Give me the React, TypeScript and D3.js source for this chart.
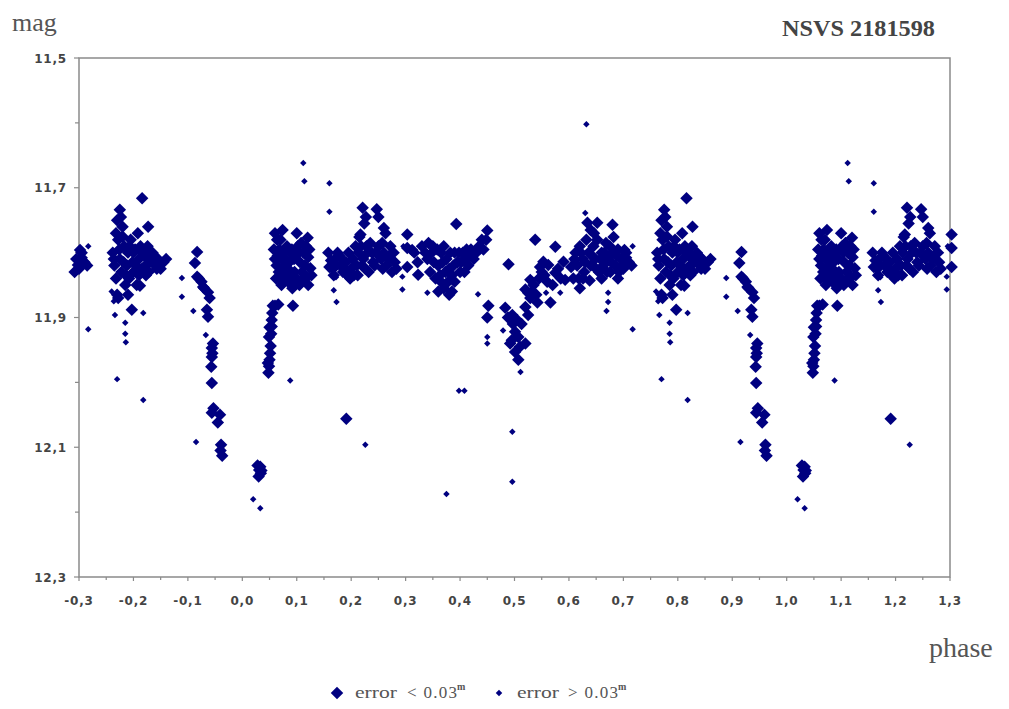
import React from "react";
import * as d3 from "d3";

// ---- data (phase in [0,1); drawn again at phase-1 / phase+1 as in the folded light curve) ----
const bigPoints: [number, number][] = [
  // primary minimum
  [0.028, 12.128], [0.031, 12.135], [0.034, 12.14], [0.03, 12.145], [0.033, 12.13], [0.035, 12.136],
  // ascending branch
  [0.048, 11.985], [0.049, 11.975], [0.05, 11.965], [0.051, 11.955], [0.052, 11.944], [0.053, 11.925],
  [0.054, 11.914], [0.054, 11.904], [0.055, 11.893], [0.056, 11.882], [0.06, 11.882], [0.066, 11.88],
  [0.049, 11.93], [0.05, 11.915], [0.047, 11.97],
  // maximum I
  [0.06, 11.77], [0.064, 11.78], [0.068, 11.795], [0.06, 11.81], [0.063, 11.82], [0.067, 11.83], [0.07, 11.84],
  [0.062, 11.84], [0.072, 11.81], [0.076, 11.8], [0.08, 11.82], [0.078, 11.835], [0.084, 11.845], [0.086, 11.815],
  [0.09, 11.83], [0.095, 11.81], [0.1, 11.77], [0.102, 11.79], [0.106, 11.815], [0.11, 11.83], [0.098, 11.845],
  [0.092, 11.855], [0.12, 11.777], [0.121, 11.807], [0.125, 11.824], [0.119, 11.838], [0.121, 11.85],
  [0.115, 11.82], [0.112, 11.8], [0.093, 11.882], [0.074, 11.765], [0.082, 11.79], [0.088, 11.8],
  [0.065, 11.805], [0.07, 11.78], [0.075, 11.825], [0.079, 11.81], [0.083, 11.83], [0.087, 11.84],
  [0.091, 11.795], [0.096, 11.83], [0.1, 11.84], [0.104, 11.8], [0.108, 11.785], [0.113, 11.84],
  [0.117, 11.79], [0.123, 11.795], [0.127, 11.835], [0.058, 11.795], [0.072, 11.85], [0.105, 11.85],
  // 0.15 - 0.29
  [0.221, 11.731], [0.247, 11.733], [0.227, 11.745], [0.26, 11.762], [0.217, 11.772], [0.158, 11.8],
  [0.163, 11.812], [0.166, 11.825], [0.17, 11.81], [0.175, 11.8], [0.18, 11.82], [0.185, 11.83], [0.19, 11.815],
  [0.195, 11.8], [0.2, 11.825], [0.205, 11.835], [0.21, 11.82], [0.213, 11.8], [0.218, 11.79], [0.222, 11.81],
  [0.226, 11.825], [0.23, 11.8], [0.235, 11.785], [0.24, 11.815], [0.245, 11.8], [0.25, 11.79], [0.255, 11.81],
  [0.26, 11.8], [0.265, 11.82], [0.27, 11.805], [0.275, 11.83], [0.28, 11.815], [0.168, 11.835], [0.198, 11.84],
  [0.232, 11.83], [0.257, 11.785], [0.178, 11.805], [0.215, 11.776], [0.263, 11.77], [0.272, 11.79],
  [0.16, 11.822], [0.172, 11.82], [0.183, 11.81], [0.188, 11.825], [0.193, 11.835], [0.203, 11.81],
  [0.208, 11.79], [0.212, 11.835], [0.22, 11.82], [0.228, 11.79], [0.238, 11.8], [0.243, 11.82], [0.252, 11.805],
  [0.258, 11.825], [0.268, 11.81], [0.278, 11.8], [0.283, 11.825], [0.224, 11.755], [0.25, 11.745],
  [0.191, 12.056],
  // 0.29 - 0.45
  [0.303, 11.772], [0.303, 11.793], [0.312, 11.796], [0.303, 11.822], [0.323, 11.834], [0.33, 11.79],
  [0.336, 11.8], [0.342, 11.785], [0.348, 11.8], [0.352, 11.815], [0.345, 11.83], [0.355, 11.84], [0.36, 11.82],
  [0.365, 11.8], [0.37, 11.79], [0.375, 11.81], [0.38, 11.825], [0.385, 11.835], [0.37, 11.855], [0.36, 11.86],
  [0.39, 11.8], [0.393, 11.756], [0.395, 11.815], [0.4, 11.83], [0.405, 11.8], [0.41, 11.81], [0.415, 11.82],
  [0.42, 11.795], [0.425, 11.81], [0.43, 11.8], [0.435, 11.79], [0.44, 11.78], [0.45, 11.766], [0.448, 11.78],
  [0.385, 11.86], [0.39, 11.845], [0.378, 11.845], [0.358, 11.795], [0.322, 11.815], [0.316, 11.8],
  [0.34, 11.81], [0.35, 11.79], [0.363, 11.835], [0.368, 11.815], [0.373, 11.83], [0.382, 11.8],
  [0.388, 11.82], [0.398, 11.8], [0.402, 11.815], [0.408, 11.83], [0.412, 11.795], [0.418, 11.805],
  [0.443, 11.795], [0.38, 11.865], [0.365, 11.845],
  // secondary minimum
  [0.452, 11.882], [0.45, 11.9], [0.483, 11.885], [0.496, 11.896], [0.505, 11.904], [0.501, 11.922],
  [0.507, 11.93], [0.492, 11.94], [0.52, 11.94], [0.501, 11.953], [0.507, 11.965], [0.489, 11.818],
  [0.525, 11.896], [0.52, 11.884], [0.513, 11.91], [0.497, 11.91], [0.488, 11.9], [0.495, 11.935],
  [0.51, 11.945],
  // rising
  [0.529, 11.87], [0.542, 11.877], [0.566, 11.877], [0.525, 11.862], [0.52, 11.857], [0.529, 11.842],
  [0.547, 11.822], [0.553, 11.814], [0.562, 11.819], [0.575, 11.831], [0.59, 11.814], [0.593, 11.842],
  [0.538, 11.78], [0.575, 11.791], [0.535, 11.85], [0.545, 11.84], [0.555, 11.835], [0.57, 11.85], [0.58, 11.825],
  [0.55, 11.83], [0.56, 11.845], [0.585, 11.84], [0.532, 11.86], [0.54, 11.865],
  // maximum II
  [0.634, 11.754], [0.652, 11.754], [0.68, 11.757], [0.682, 11.776], [0.612, 11.8], [0.615, 11.82],
  [0.618, 11.84], [0.62, 11.79], [0.625, 11.81], [0.628, 11.83], [0.632, 11.78], [0.636, 11.8], [0.64, 11.82],
  [0.645, 11.79], [0.648, 11.81], [0.652, 11.78], [0.655, 11.83], [0.66, 11.8], [0.663, 11.82], [0.668, 11.785],
  [0.672, 11.81], [0.676, 11.83], [0.68, 11.8], [0.685, 11.82], [0.69, 11.795], [0.695, 11.81], [0.7, 11.825],
  [0.705, 11.8], [0.71, 11.815], [0.638, 11.843], [0.62, 11.855], [0.66, 11.84], [0.69, 11.84], [0.715, 11.82],
  [0.604, 11.822], [0.608, 11.84], [0.702, 11.796], [0.705, 11.808], [0.698, 11.819],
  [0.622, 11.8], [0.63, 11.815], [0.642, 11.805], [0.646, 11.77], [0.65, 11.825], [0.658, 11.81],
  [0.665, 11.8], [0.67, 11.83], [0.675, 11.79], [0.678, 11.815], [0.688, 11.805], [0.692, 11.83],
  [0.64, 11.765], [0.61, 11.81], [0.626, 11.84],
  // 0.76 - 0.86
  [0.775, 11.734], [0.816, 11.716], [0.827, 11.76], [0.77, 11.865], [0.797, 11.888], [0.812, 11.851],
  [0.762, 11.8], [0.765, 11.82], [0.768, 11.84], [0.77, 11.75], [0.772, 11.78], [0.775, 11.81], [0.778, 11.83],
  [0.78, 11.76], [0.783, 11.79], [0.785, 11.85], [0.788, 11.82], [0.79, 11.8], [0.792, 11.84], [0.795, 11.78],
  [0.798, 11.815], [0.8, 11.83], [0.803, 11.795], [0.806, 11.85], [0.81, 11.81], [0.813, 11.79], [0.816, 11.825],
  [0.82, 11.805], [0.823, 11.835], [0.826, 11.79], [0.83, 11.815], [0.835, 11.8], [0.84, 11.82], [0.845, 11.81],
  [0.85, 11.825], [0.855, 11.815], [0.86, 11.81], [0.808, 11.77], [0.79, 11.865], [0.772, 11.87],
  [0.764, 11.81], [0.768, 11.77], [0.774, 11.795], [0.777, 11.745], [0.782, 11.815], [0.786, 11.835],
  [0.793, 11.79], [0.8, 11.8], [0.805, 11.82], [0.81, 11.835], [0.818, 11.8], [0.822, 11.82], [0.828, 11.83],
  [0.833, 11.81], [0.838, 11.805], [0.843, 11.825], [0.848, 11.815], [0.78, 11.775],
  // descending branch
  [0.917, 11.799], [0.913, 11.816], [0.917, 11.837], [0.928, 11.853], [0.937, 11.861], [0.935, 11.888],
  [0.937, 11.899], [0.944, 11.947], [0.944, 11.961], [0.943, 11.976], [0.944, 12.001], [0.944, 12.047],
  [0.959, 12.05], [0.955, 12.062], [0.961, 12.096], [0.963, 12.113], [0.92, 11.84], [0.925, 11.845],
  [0.93, 11.855], [0.94, 11.87], [0.945, 11.955], [0.946, 11.94], [0.96, 12.105], [0.947, 12.04],
];

const smallPoints: [number, number][] = [
  [0.02, 12.18], [0.033, 12.194], [0.088, 11.997], [0.112, 11.662], [0.114, 11.69], [0.16, 11.693],
  [0.16, 11.737], [0.172, 11.838], [0.168, 11.858], [0.173, 11.876], [0.226, 12.096], [0.294, 11.837],
  [0.294, 11.857], [0.296, 11.79], [0.34, 11.862], [0.398, 12.013], [0.408, 12.013], [0.375, 12.172],
  [0.496, 12.076], [0.496, 12.153], [0.433, 11.864], [0.45, 11.93], [0.45, 11.94], [0.479, 11.92],
  [0.511, 11.984], [0.584, 11.862], [0.558, 11.862], [0.63, 11.739], [0.632, 11.602], [0.672, 11.862],
  [0.672, 11.876], [0.669, 11.89], [0.717, 11.79], [0.717, 11.918], [0.766, 11.896], [0.785, 11.908],
  [0.785, 11.925], [0.786, 11.938], [0.818, 11.893], [0.77, 11.995], [0.818, 12.027], [0.889, 11.839],
  [0.889, 11.868], [0.91, 11.89], [0.915, 12.092], [0.933, 11.927], [0.76, 11.86], [0.764, 11.875],
];

const xTickValues = [-0.3, -0.2, -0.1, 0.0, 0.1, 0.2, 0.3, 0.4, 0.5, 0.6, 0.7, 0.8, 0.9, 1.0, 1.1, 1.2, 1.3];
const xMinorValues = [-0.25, -0.15, -0.05, 0.05, 0.15, 0.25, 0.35, 0.45, 0.55, 0.65, 0.75, 0.85, 0.95, 1.05, 1.15, 1.25];
const yTickValues = [11.5, 11.7, 11.9, 12.1, 12.3];
const yMinorValues = [11.6, 11.8, 12.0, 12.2];

const W = 1009, H = 709;
const L = 79, R = 950, T = 58, B = 577;
const NAVY = "#000080";
const AXIS = "#8a8a8a";
const LABEL = "#444";
const SERIF = "'Liberation Serif', 'Times New Roman', serif";

function fold(pts: [number, number][]) {
  const out: [number, number][] = [];
  for (const [p, m] of pts) {
    for (const s of [-1, 0, 1]) {
      const q = p + s;
      if (q >= -0.31 && q <= 1.31) out.push([q, m]);
    }
  }
  return out;
}

const fmt = (v: number, d: number) => v.toFixed(d).replace(".", ",");

export default function App() {
  const x = d3.scaleLinear().domain([-0.3, 1.3]).range([L, R]);
  const y = d3.scaleLinear().domain([11.5, 12.3]).range([T, B]);
  const bigSym = d3.symbol(d3.symbolSquare, 78)()!;
  const smallSym = d3.symbol(d3.symbolSquare, 21)()!;
  const big = fold(bigPoints);
  const small = fold(smallPoints);
  const tickFont = { fontFamily: "'DejaVu Sans', Verdana, sans-serif", fontWeight: 700, fontSize: 12, fill: LABEL };

  return (
    <svg width={W} height={H} style={{ position: "absolute", left: 0, top: 0, background: "#fff" }}>
      <rect x={0} y={0} width={W} height={H} fill="#fff" />
      {/* frame */}
      <rect x={L} y={T} width={R - L} height={B - T} fill="none" stroke={AXIS} strokeWidth={1.5} />
      {/* y ticks */}
      {yTickValues.map((v) => (
        <g key={"yt" + v}>
          <line x1={L - 5} x2={L} y1={y(v)} y2={y(v)} stroke={AXIS} strokeWidth={1.2} />
          <text x={L - 12} y={y(v) + 4.5} textAnchor="end" style={tickFont} letterSpacing={0.8}>
            {fmt(v, 1)}
          </text>
        </g>
      ))}
      {yMinorValues.map((v) => (
        <line key={"ym" + v} x1={L - 4} x2={L} y1={y(v)} y2={y(v)} stroke={AXIS} strokeWidth={1.2} />
      ))}
      {/* x ticks */}
      {xTickValues.map((v) => (
        <g key={"xt" + v}>
          <line x1={x(v)} x2={x(v)} y1={B} y2={B + 4} stroke={AXIS} strokeWidth={1.2} />
          <text x={x(v)} y={605} textAnchor="middle" style={tickFont} letterSpacing={0.8}>
            {fmt(v, 1)}
          </text>
        </g>
      ))}
      {xMinorValues.map((v) => (
        <line key={"xm" + v} x1={x(v)} x2={x(v)} y1={B} y2={B + 3} stroke={AXIS} strokeWidth={1.2} />
      ))}
      {/* data */}
      {small.map(([p, m], i) => (
        <path key={"s" + i} d={smallSym} transform={`translate(${x(p)},${y(m)}) rotate(45)`} fill={NAVY} />
      ))}
      {big.map(([p, m], i) => (
        <path key={"b" + i} d={bigSym} transform={`translate(${x(p)},${y(m)}) rotate(45)`} fill={NAVY} />
      ))}
      {/* labels */}
      <text x={12} y={31} style={{ fontFamily: SERIF, fontSize: 26, fill: "#555" }}>
        mag
      </text>
      <text x={782} y={36} style={{ fontFamily: SERIF, fontSize: 23, fontWeight: 700, fill: "#444" }} textLength={153} lengthAdjust="spacingAndGlyphs">
        NSVS 2181598
      </text>
      <text x={929} y={657} style={{ fontFamily: SERIF, fontSize: 28, fill: "#555" }}>
        phase
      </text>
      {/* legend */}
      <path d={bigSym} transform="translate(337,693) rotate(45)" fill={NAVY} />
      <text x={355} y={698} style={{ fontFamily: SERIF, fontSize: 16, fill: "#555" }} textLength={42} lengthAdjust="spacingAndGlyphs">
        error
      </text>
      <text x={407} y={698} style={{ fontFamily: SERIF, fontSize: 17, fill: "#555" }} textLength={50}>
        {"< 0.03"}
      </text>
      <text x={457} y={690} style={{ fontFamily: SERIF, fontSize: 10, fill: "#555", fontWeight: 700 }}>
        m
      </text>
      <path d={smallSym} transform="translate(499,693) rotate(45)" fill={NAVY} />
      <text x={517} y={698} style={{ fontFamily: SERIF, fontSize: 16, fill: "#555" }} textLength={42} lengthAdjust="spacingAndGlyphs">
        error
      </text>
      <text x={568} y={698} style={{ fontFamily: SERIF, fontSize: 17, fill: "#555" }} textLength={50}>
        {"> 0.03"}
      </text>
      <text x={618} y={690} style={{ fontFamily: SERIF, fontSize: 10, fill: "#555", fontWeight: 700 }}>
        m
      </text>
    </svg>
  );
}
